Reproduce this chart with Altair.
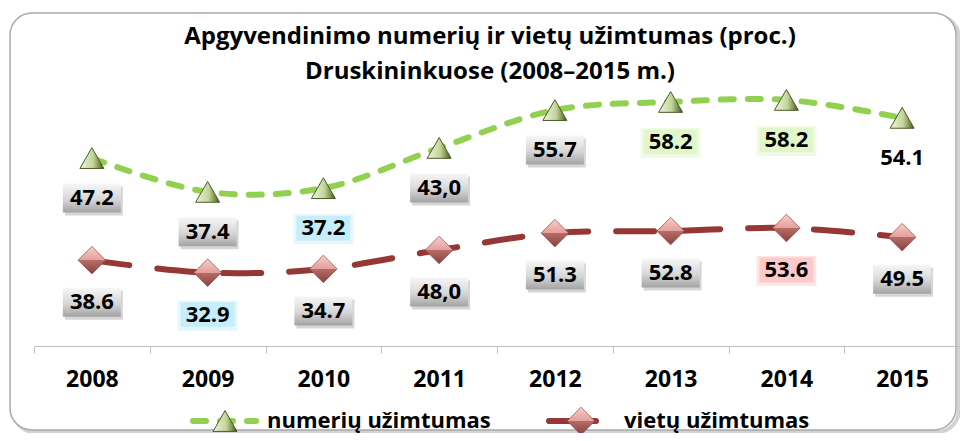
import altair as alt
import pandas as pd

# ---- data ----
years = ["2008", "2009", "2010", "2011", "2012", "2013", "2014", "2015"]
# vertical position of the plotted points (hidden 0-100 axis, as drawn in the source)
numeriu_pos = [55.6, 45.6, 46.7, 58.6, 69.8, 72.2, 72.8, 67.5]
vietu_pos = [25.4, 21.7, 22.8, 28.4, 33.4, 34.0, 34.9, 32.2]
# data labels as printed
numeriu_labels = ["47.2", "37.4", "37.2", "43,0", "55.7", "58.2", "58.2", "54.1"]
vietu_labels = ["38.6", "32.9", "34.7", "48,0", "51.3", "52.8", "53.6", "49.5"]
# highlight of each label box
numeriu_box = ["gray", "gray", "blue", "gray", "gray", "green", "green", "none"]
vietu_box = ["gray", "blue", "gray", "gray", "gray", "gray", "pink", "gray"]
series_names = ["numerių užimtumas", "vietų užimtumas"]
title_lines = ["Apgyvendinimo numerių ir vietų užimtumas (proc.)",
               "Druskininkuose (2008–2015 m.)"]

FONT = "Open Sans"
GREEN = "#92d050"
RED = "#953735"
BOX = "M-1,-0.5H1V0.5H-1Z"

df_n = pd.DataFrame({"year": years, "pos": numeriu_pos,
                     "label": numeriu_labels, "box": numeriu_box})
df_v = pd.DataFrame({"year": years, "pos": vietu_pos,
                     "label": vietu_labels, "box": vietu_box})
one = pd.DataFrame({"k": [0]})

x_enc = alt.X(
    "year:N", sort=years,
    scale=alt.Scale(paddingInner=0, paddingOuter=0),
    axis=alt.Axis(title=None, labelAngle=0, labelFont=FONT, labelFontWeight="bold",
                  labelFontSize=23, labelColor="black", labelBaseline="middle",
                  labelPadding=26, domainColor="#bfbfbf", domainWidth=1,
                  tickColor="#bfbfbf", tickSize=7, tickBand="extent", grid=False,
                  zindex=1),
)
y_enc = alt.Y("pos:Q", scale=alt.Scale(domain=[0, 100]), axis=None)


def grad(stops, vertical=True):
    return alt.Gradient(
        gradient="linear",
        stops=[alt.GradientStop(color=c, offset=o) for o, c in stops],
        x1=0, y1=0, x2=0 if vertical else 1, y2=1 if vertical else 0,
    )


gray_fill = grad([(0, "#f7f7f7"), (0.55, "#d6d6d6"), (1, "#a3a3a3")])
box_colors = {"blue": "#c6eefa", "green": "#e2f7c9", "pink": "#ffc9c9"}

# border of the chart area
border_shadow = alt.Chart(one).mark_rect(
    cornerRadius=22, fill="white", stroke="#d2d2d2", strokeWidth=4
).encode(x=alt.value(-21), x2=alt.value(925), y=alt.value(8), y2=alt.value(424))
border = alt.Chart(one).mark_rect(
    cornerRadius=22, fill="white", stroke="#a9a9a9", strokeWidth=1.5
).encode(x=alt.value(-24), x2=alt.value(922), y=alt.value(5), y2=alt.value(422))

layers = [border_shadow, border]

# lines
line_n = alt.Chart(df_n).mark_line(
    interpolate="catmull-rom", color=GREEN, strokeWidth=6,
    strokeDash=[13, 14], strokeCap="round"
).encode(x=x_enc, y=y_enc)
line_v = alt.Chart(df_v).mark_line(
    interpolate="catmull-rom", color=RED, strokeWidth=6,
    strokeDash=[38, 28], strokeCap="round"
).encode(x=x_enc, y=y_enc)
layers += [line_n, line_v]

tri_fill = grad([(0, "#eef4e0"), (0.55, "#c2d49a"), (0.8, "#7d9150"), (1, "#3d4b1f")], vertical=False)
dia_fill = grad([(0, "#f8cdca"), (0.5, "#e39f9b"), (0.5, "#b86c68"), (1, "#86433f")])

mark_n = alt.Chart(df_n).mark_point(
    shape="triangle-up", size=576, filled=True, fill=tri_fill,
    stroke="#4a5a26", strokeWidth=1, opacity=1
).encode(x=x_enc, y=y_enc)
mark_v = alt.Chart(df_v).mark_point(
    shape="diamond", size=760, filled=True, fill=dia_fill,
    stroke="#8a4744", strokeWidth=0.7, opacity=1
).encode(x=x_enc, y=y_enc)
layers += [mark_n, mark_v]


def boxes(df, dy):
    out = []
    g = df[df["box"] == "gray"]
    if len(g):
        out.append(alt.Chart(g).mark_point(
            shape=BOX, size=3364, filled=True, fill="black", opacity=0.16,
            strokeWidth=0, yOffset=dy + 3, xOffset=2
        ).encode(x=x_enc, y=y_enc))
        out.append(alt.Chart(g).mark_point(
            shape=BOX, size=3364, filled=True, fill=gray_fill, opacity=1,
            strokeWidth=0, yOffset=dy
        ).encode(x=x_enc, y=y_enc))
    for kind, col in box_colors.items():
        s = df[df["box"] == kind]
        if len(s):
            out.append(alt.Chart(s).mark_point(
                shape=BOX, size=3600, filled=True, fill=col, opacity=0.45,
                strokeWidth=0, yOffset=dy + 1
            ).encode(x=x_enc, y=y_enc))
            out.append(alt.Chart(s).mark_point(
                shape="M-1,-0.46H1V0.46H-1Z", size=2916, filled=True, fill=col,
                opacity=1, strokeWidth=0, yOffset=dy
            ).encode(x=x_enc, y=y_enc))
    return out


DY_N, DY_V = 40, 42
layers += boxes(df_n, DY_N) + boxes(df_v, DY_V)

txt = dict(font=FONT, fontWeight="bold", fontSize=22, color="black", baseline="middle")
lab_n = alt.Chart(df_n).mark_text(dy=DY_N, **txt).encode(x=x_enc, y=y_enc, text="label:N")
lab_v = alt.Chart(df_v).mark_text(dy=DY_V, **txt).encode(x=x_enc, y=y_enc, text="label:N")
layers += [lab_n, lab_v]

# title
ttl = dict(font=FONT, fontWeight="bold", fontSize=24, color="black",
           baseline="middle", align="center")
layers.append(alt.Chart(one).mark_text(**ttl).encode(
    x=alt.value(456), y=alt.value(29), text=alt.value(title_lines[0])))
layers.append(alt.Chart(one).mark_text(**ttl).encode(
    x=alt.value(456), y=alt.value(64), text=alt.value(title_lines[1])))

# legend
LY = 413
layers.append(alt.Chart(one).mark_rule(
    color=GREEN, strokeWidth=6, strokeDash=[13, 14], strokeCap="round"
).encode(x=alt.value(159), x2=alt.value(222), y=alt.value(LY)))
layers.append(alt.Chart(one).mark_point(
    shape="triangle-up", size=576, filled=True, fill=tri_fill,
    stroke="#4a5a26", strokeWidth=1, opacity=1
).encode(x=alt.value(191), y=alt.value(LY)))
layers.append(alt.Chart(one).mark_rule(
    color=RED, strokeWidth=6, strokeCap="round"
).encode(x=alt.value(515), x2=alt.value(562), y=alt.value(LY)))
layers.append(alt.Chart(one).mark_point(
    shape="diamond", size=760, filled=True, fill=dia_fill,
    stroke="#8a4744", strokeWidth=0.7, opacity=1
).encode(x=alt.value(547), y=alt.value(LY)))
leg = dict(font=FONT, fontWeight="bold", fontSize=22, color="black",
           baseline="middle", align="left")
layers.append(alt.Chart(one).mark_text(**leg).encode(
    x=alt.value(233), y=alt.value(LY), text=alt.value(series_names[0])))
layers.append(alt.Chart(one).mark_text(**leg).encode(
    x=alt.value(590), y=alt.value(LY), text=alt.value(series_names[1])))

chart = alt.layer(*layers).properties(
    width=926, height=338,
    autosize=alt.AutoSizeParams(type="none"),
    padding={"left": 26, "top": 0, "right": 0, "bottom": 87},
).configure_view(stroke=None)

chart.save("out.html", embed_options={"renderer": "svg", "actions": False})
